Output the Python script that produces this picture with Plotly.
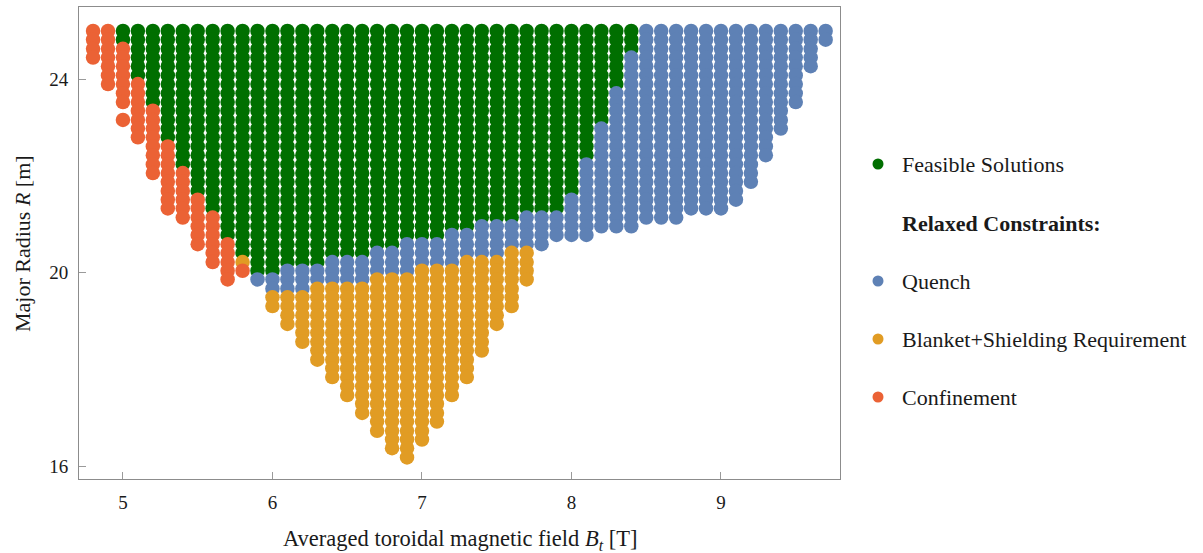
import plotly.graph_objects as go

# Scan grid of major radius values (top row = 25 m)
R_GRID = [25.00, 24.82, 24.63, 24.45, 24.27, 24.08, 23.90, 23.71, 23.53, 23.35,
          23.16, 22.98, 22.80, 22.61, 22.43, 22.24, 22.06, 21.88, 21.69, 21.51,
          21.33, 21.14, 20.96, 20.78, 20.59, 20.41, 20.22, 20.04, 19.86, 19.67,
          19.49, 19.31, 19.12, 18.94, 18.76, 18.57, 18.39, 18.20, 18.02, 17.84,
          17.65, 17.47, 17.29, 17.10, 16.92, 16.73, 16.55, 16.37, 16.18]

# Feasible solutions: per B_t column, R range (high, low)
FEAS_X = [5.0, 5.1, 5.2, 5.3, 5.4, 5.5, 5.6, 5.7, 5.8, 5.9, 6.0, 6.1, 6.2, 6.3, 6.4, 6.5, 6.6,
          6.7, 6.8, 6.9, 7.0, 7.1, 7.2, 7.3, 7.4, 7.5, 7.6, 7.7, 7.8, 7.9, 8.0, 8.1, 8.2, 8.3, 8.4]
FEAS_HI = [25.00, 25.00, 25.00, 25.00, 25.00, 25.00, 25.00, 25.00, 25.00, 25.00,
           25.00, 25.00, 25.00, 25.00, 25.00, 25.00, 25.00, 25.00, 25.00, 25.00,
           25.00, 25.00, 25.00, 25.00, 25.00, 25.00, 25.00, 25.00, 25.00, 25.00,
           25.00, 25.00, 25.00, 25.00, 25.00]
FEAS_LO = [24.82, 24.08, 23.53, 22.80, 22.24, 21.69, 21.33, 20.78, 20.41, 20.04, 20.04, 20.22,
           20.22, 20.22, 20.41, 20.41, 20.41, 20.59, 20.59, 20.78, 20.78, 20.78, 20.96, 20.96,
           21.14, 21.14, 21.14, 21.33, 21.33, 21.33, 21.69, 22.43, 23.16, 23.90, 24.63]

# Relaxed constraint: Quench
QUENCH_X = [5.9, 6.0, 6.1, 6.2, 6.3, 6.4, 6.5, 6.6, 6.7, 6.8, 6.9, 7.0, 7.1, 7.2, 7.3, 7.4, 7.5,
            7.6, 7.7, 7.8, 7.9, 8.0, 8.1, 8.2, 8.3, 8.4, 8.5, 8.6, 8.7, 8.8, 8.9, 9.0, 9.1, 9.2,
            9.3, 9.4, 9.5, 9.6, 9.7]
QUENCH_HI = [19.86, 19.86, 20.04, 20.04, 20.04, 20.22, 20.22, 20.22, 20.41, 20.41, 20.59, 20.59,
             20.59, 20.78, 20.78, 20.96, 20.96, 20.96, 21.14, 21.14, 21.14, 21.51, 22.24, 22.98,
             23.71, 24.45, 25.00, 25.00, 25.00, 25.00, 25.00, 25.00, 25.00, 25.00, 25.00, 25.00,
             25.00, 25.00, 25.00]
QUENCH_LO = [19.86, 19.67, 19.67, 19.67, 19.86, 19.86, 19.86, 19.86, 20.04, 20.04, 20.04, 20.22,
             20.22, 20.22, 20.41, 20.41, 20.41, 20.59, 20.59, 20.59, 20.78, 20.78, 20.78, 20.96,
             20.96, 20.96, 21.14, 21.14, 21.14, 21.33, 21.33, 21.33, 21.51, 21.88, 22.43, 22.98,
             23.53, 24.27, 24.82]

# Relaxed constraint: Blanket+Shielding requirement
BLANKET_X = [5.8, 6.0, 6.1, 6.2, 6.3, 6.4, 6.5, 6.6, 6.7, 6.8, 6.9, 7.0, 7.1, 7.2, 7.3, 7.4,
             7.5, 7.6, 7.7]
BLANKET_HI = [20.22, 19.49, 19.49, 19.49, 19.67, 19.67, 19.67, 19.67, 19.86, 19.86, 19.86, 20.04,
              20.04, 20.04, 20.22, 20.22, 20.22, 20.41, 20.41]
BLANKET_LO = [20.22, 19.31, 18.94, 18.57, 18.20, 17.84, 17.47, 17.10, 16.73, 16.37, 16.18, 16.55,
              16.92, 17.47, 17.84, 18.39, 18.94, 19.31, 19.86]

# Relaxed constraint: Confinement
CONF_X = [4.8, 4.9, 5.0, 5.0, 5.1, 5.2, 5.3, 5.4, 5.5, 5.6, 5.7, 5.8]
CONF_HI = [25.00, 25.00, 24.63, 23.16, 23.90, 23.35, 22.61, 22.06, 21.51, 21.14, 20.59, 20.04]
CONF_LO = [24.45, 23.90, 23.53, 23.16, 22.80, 22.06, 21.33, 21.14, 20.59, 20.22, 19.86, 20.04]

LEGEND_NAMES = ["Feasible Solutions", "Quench", "Blanket+Shielding Requirement", "Confinement"]
COLORS = ["#006F00", "#5E81B5", "#E19C24", "#EB6235"]

X_TICKS = [5, 6, 7, 8, 9]
Y_TICKS = [16, 20, 24]


def expand(xs, his, los):
    px, py = [], []
    for x, hi, lo in zip(xs, his, los):
        for r in R_GRID:
            if lo - 0.005 <= r <= hi + 0.005:
                px.append(x)
                py.append(r)
    return px, py


FONT = "Liberation Serif"
MSIZE = 14.5

fig = go.Figure()
for (xs, his, los), name, col in zip(
        [(FEAS_X, FEAS_HI, FEAS_LO), (QUENCH_X, QUENCH_HI, QUENCH_LO),
         (BLANKET_X, BLANKET_HI, BLANKET_LO), (CONF_X, CONF_HI, CONF_LO)],
        LEGEND_NAMES, COLORS):
    px, py = expand(xs, his, los)
    fig.add_trace(go.Scatter(x=px, y=py, mode="markers", name=name,
                             marker=dict(size=MSIZE, color=col, line=dict(width=0)),
                             showlegend=False, hoverinfo="x+y+name"))

# plot area in pixels
L, R, T, B = 79, 840, 7, 479
W, H = 1203, 553


def pxx(p):
    return (p - L) / (R - L)


def pxy(p):
    return (B - p) / (B - T)


axis_common = dict(showgrid=False, zeroline=False, showline=True, linecolor="#8c8c8c",
                   linewidth=1, mirror=True, ticks="inside", ticklen=7, tickwidth=1,
                   tickcolor="#9a9a9a", tickfont=dict(family=FONT, size=19, color="#1a1a1a"))

fig.update_layout(
    width=W, height=H,
    margin=dict(l=L, r=W - R, t=T, b=H - B, pad=0),
    plot_bgcolor="white", paper_bgcolor="white",
    showlegend=False,
    xaxis=dict(range=[4.706, 9.796], tickvals=X_TICKS, ticklabelstandoff=6, **axis_common),
    yaxis=dict(range=[15.733, 25.495], tickvals=Y_TICKS, ticklabelstandoff=6, **axis_common),
)

ann = []
ann.append(dict(text="Averaged toroidal magnetic field <i>B<sub>t</sub></i> [T]",
                x=pxx(460), y=pxy(540), xref="paper", yref="paper", showarrow=False,
                xanchor="center", yanchor="middle",
                font=dict(family=FONT, size=22.5, color="#1a1a1a")))
ann.append(dict(text="Major Radius <i>R</i> [m]", textangle=-90,
                x=pxx(22), y=pxy(244), xref="paper", yref="paper", showarrow=False,
                xanchor="center", yanchor="middle",
                font=dict(family=FONT, size=22, color="#1a1a1a")))

legend_rows = [("Feasible Solutions", COLORS[0], 164),
               ("<b>Relaxed Constraints:</b>", None, 223),
               ("Quench", COLORS[1], 281),
               ("Blanket+Shielding Requirement", COLORS[2], 339),
               ("Confinement", COLORS[3], 397)]
shapes = []
for text, col, yy in legend_rows:
    ann.append(dict(text=text, x=pxx(900), y=pxy(yy), xref="paper", yref="paper",
                    showarrow=False, xanchor="left", yanchor="middle",
                    font=dict(family=FONT, size=22, color="#1a1a1a")))
    if col:
        shapes.append(dict(type="circle", xref="paper", yref="paper",
                           xsizemode="pixel", ysizemode="pixel",
                           xanchor=pxx(878), yanchor=pxy(yy),
                           x0=-5.5, x1=5.5, y0=-5.5, y1=5.5,
                           fillcolor=col, line=dict(width=0)))

fig.update_layout(annotations=ann, shapes=shapes)
fig.write_html("out.html")
